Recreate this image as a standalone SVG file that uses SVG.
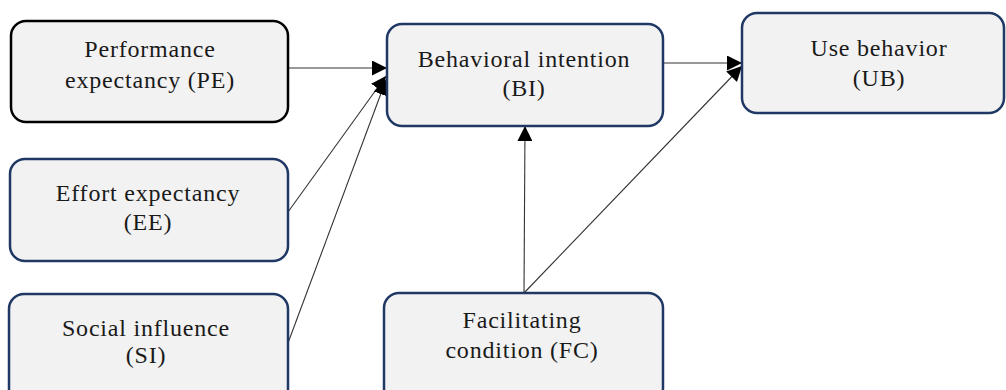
<svg xmlns="http://www.w3.org/2000/svg" width="1006" height="390" viewBox="0 0 1006 390">
<style>
.box{fill:#f2f2f2;stroke:#1f3864;stroke-width:2.5}
.blk{stroke:#000}
.t{font-family:"Liberation Serif","DejaVu Serif",serif;font-size:24px;letter-spacing:0.8px;fill:#1a1a1a;text-anchor:middle}
.c{stroke:#333;stroke-width:1.1;fill:none;marker-end:url(#ah)}
</style>
<defs>
<marker id="ah" viewBox="0 0 10 10" refX="10" refY="5" markerWidth="15" markerHeight="15" markerUnits="userSpaceOnUse" orient="auto">
<path d="M0,0 L10,5 L0,10 z" fill="#000"/>
</marker>
</defs>
<rect width="1006" height="390" fill="#fff"/>
<g id="connectors">
<line class="c" x1="289" y1="68" x2="387" y2="68"/>
<line class="c" x1="288" y1="212" x2="386" y2="76"/>
<line class="c" x1="288" y1="343" x2="386" y2="80"/>
<line class="c" x1="663" y1="63" x2="742" y2="63"/>
<line class="c" x1="524" y1="293" x2="525" y2="126"/>
<line class="c" x1="524" y1="293" x2="742" y2="66"/>
</g>
<g id="PE">
<rect class="box blk" x="11" y="21" width="277" height="101" rx="15"/>
<text class="t" x="150" y="57">Performance</text>
<text class="t" x="150" y="88">expectancy (PE)</text>
</g>
<g id="BI">
<rect class="box" x="387" y="24" width="276" height="102" rx="15"/>
<text class="t" x="524" y="67">Behavioral intention</text>
<text class="t" x="524" y="96">(BI)</text>
</g>
<g id="UB">
<rect class="box" x="742" y="13" width="262" height="100" rx="15"/>
<text class="t" x="879" y="56">Use behavior</text>
<text class="t" x="879" y="86">(UB)</text>
</g>
<g id="EE">
<rect class="box" x="10" y="159" width="278" height="102" rx="15"/>
<text class="t" x="148" y="201">Effort expectancy</text>
<text class="t" x="148" y="230">(EE)</text>
</g>
<g id="SI">
<rect class="box" x="9" y="294" width="279" height="110" rx="15"/>
<text class="t" x="146" y="336">Social influence</text>
<text class="t" x="146" y="363">(SI)</text>
</g>
<g id="FC">
<rect class="box" x="384" y="293" width="279" height="110" rx="15"/>
<text class="t" x="522" y="328">Facilitating</text>
<text class="t" x="522" y="358">condition (FC)</text>
</g>
</svg>
